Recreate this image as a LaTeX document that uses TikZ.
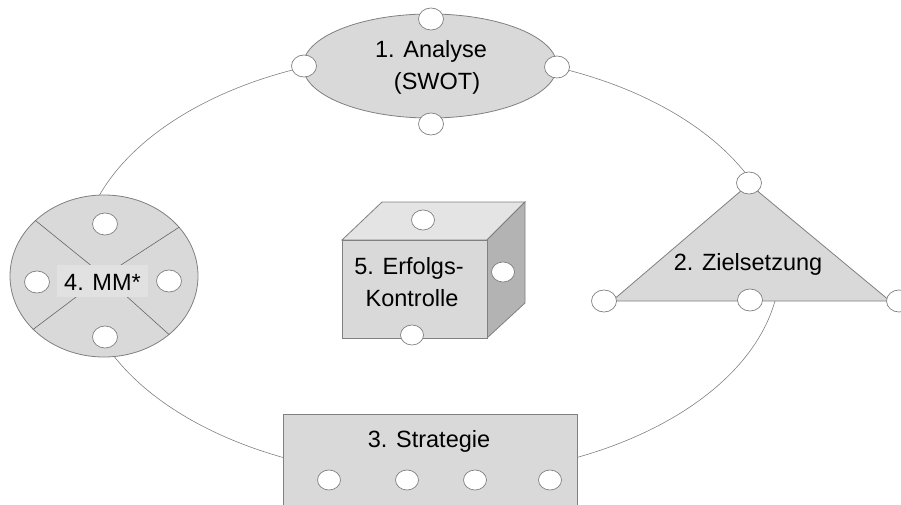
\documentclass[tikz,border=0pt]{standalone}
\usepackage{fontspec}
\setmainfont{Liberation Sans}
\usetikzlibrary{shapes.geometric}
\definecolor{shapefill}{HTML}{D9D9D9}
\definecolor{topfill}{HTML}{E4E4E4}
\definecolor{sidefill}{HTML}{B3B3B3}
\definecolor{labelfill}{HTML}{E1E1E1}
\definecolor{edgegray}{HTML}{808080}
\tikzset{
  shapebox/.style={draw=edgegray, fill=shapefill, line width=0.8pt},
  port/.style={ellipse, draw=edgegray, fill=white, line width=0.7pt, minimum width=25pt, minimum height=22pt, inner sep=0pt},
  smallport/.style={port, minimum width=23pt, minimum height=20pt},
  lbl/.style={font=\fontsize{23.5}{28}\selectfont, inner sep=0pt, anchor=base, text=black},
  cycleline/.style={draw=edgegray, line width=0.6pt},
  divline/.style={draw=edgegray!80!black, line width=0.6pt}
}
\begin{document}
\begin{tikzpicture}[x=1pt,y=-1pt]
\useasboundingbox (0,0) rectangle (901,505);
\clip (0,0) rectangle (901,505);
% big cycle
\draw[cycleline] (430,265) ellipse [x radius=350pt, y radius=212pt];
% 1. Analyse
\node[ellipse, shapebox, minimum width=254pt, minimum height=104pt, inner sep=0pt] (ana) at (430,66) {};
\node[port] (anaT) at (431,19) {};
\node[port] (anaL) at (304,66) {};
\node[port] (anaR) at (557,67) {};
\node[port] (anaB) at (431,124) {};
\node[lbl] (anaT1) at (431,58) {1. Analyse};
\node[lbl] (anaT2) at (437,90) {(SWOT)};
% 4. MM*
\node[ellipse, shapebox, minimum width=188pt, minimum height=162pt, inner sep=0pt] (mm) at (104,276) {};
\draw[divline] (mm.center) -- (mm.141.5);
\draw[divline] (mm.center) -- (mm.33.5);
\draw[divline] (mm.center) -- (mm.217);
\draw[divline] (mm.center) -- (mm.318);
\node[fill=labelfill, minimum width=91pt, minimum height=32pt, inner sep=0pt] (mmbox) at (102.5,281) {};
\node[lbl] (mmT) at (102.5,290) {4. MM*};
\node[port] (mmPT) at (105,224) {};
\node[port] (mmPL) at (37,282) {};
\node[port] (mmPR) at (169,281) {};
\node[port] (mmPB) at (105,337) {};
% 2. Zielsetzung
\coordinate (zA) at (749,184);
\coordinate (zL) at (612,301);
\coordinate (zR) at (890,301);
\draw[shapebox] (zA) -- (zR) -- (zL) -- cycle;
\node[lbl] (zT) at (748,270) {2. Zielsetzung};
\node[port] (zPA) at (749,183) {};
\node[port] (zPL) at (604,301) {};
\node[port] (zPM) at (750,300) {};
\node[port] (zPR) at (899,301) {};
% 3. Strategie
\draw[shapebox] (283,414) rectangle (577,520);
\node[lbl] (sT) at (429,447) {3. Strategie};
\node[smallport] (s1) at (329,480) {};
\node[smallport] (s2) at (407,480) {};
\node[smallport] (s3) at (475,480) {};
\node[smallport] (s4) at (550,480) {};
% 5. Erfolgs-Kontrolle cube
\coordinate (cFL) at (342,240);
\coordinate (cFR) at (487,240);
\coordinate (cBL) at (342,338);
\coordinate (cBR) at (487,338);
\coordinate (cTL) at (382,202);
\coordinate (cTR) at (525,202);
\coordinate (cRB) at (525,303);
\draw[draw=edgegray, fill=topfill, line width=0.8pt] (cFL) -- (cTL) -- (cTR) -- (cFR) -- cycle;
\draw[draw=edgegray, fill=sidefill, line width=0.8pt] (cFR) -- (cTR) -- (cRB) -- (cBR) -- cycle;
\draw[shapebox] (cFL) rectangle (cBR);
\node[lbl] (cT1) at (409,274) {5. Erfolgs-};
\node[lbl] (cT2) at (412,306) {Kontrolle};
\node[smallport] (cPT) at (423,220) {};
\node[smallport] (cPR) at (503,272) {};
\node[smallport] (cPB) at (412,335) {};
\end{tikzpicture}
\end{document}
